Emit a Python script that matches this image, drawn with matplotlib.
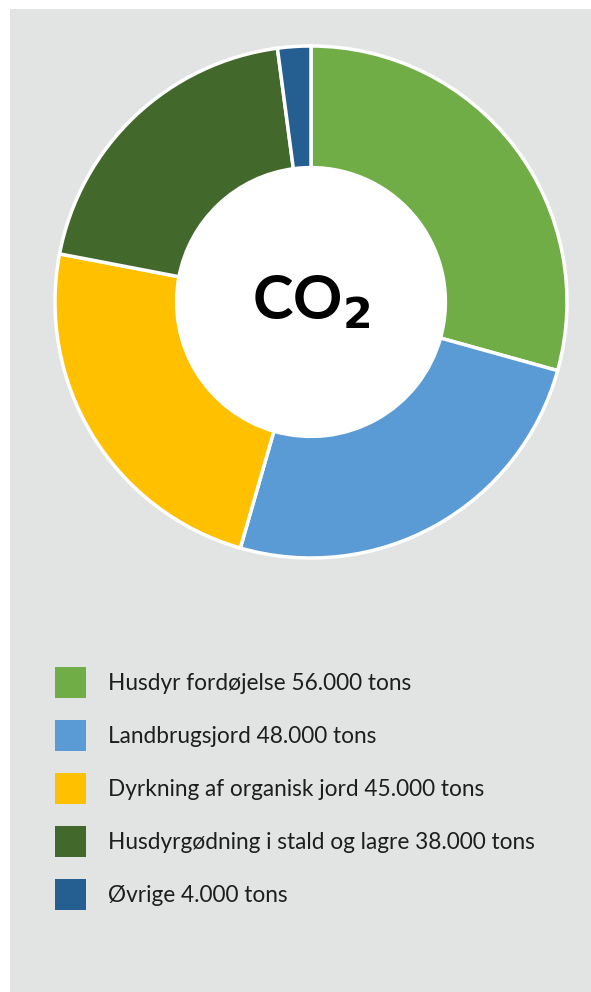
import matplotlib.pyplot as plt
from matplotlib.patches import Rectangle, Circle

labels = ['Husdyr fordøjelse', 'Landbrugsjord', 'Dyrkning af organisk jord',
          'Husdyrgødning i stald og lagre', 'Øvrige']
values = [56000, 48000, 45000, 38000, 4000]
colors = ['#70ad47', '#5b9bd5', '#ffc000', '#43682b', '#255e91']

W, H = 591, 992
fig = plt.figure(figsize=(W / 100, H / 100), dpi=100)
fig.patch.set_facecolor('white')

# grey panel
bg = fig.add_axes([0, 0, 1, 1])
bg.set_xlim(0, W)
bg.set_ylim(H, 0)
bg.axis('off')
bg.add_patch(Rectangle((10, 9), W - 10, H - 9, color='#e2e4e3', lw=0))

# donut
cx, cy, r = 311, 302, 256
ax = fig.add_axes([(cx - r) / W, (H - cy - r) / H, 2 * r / W, 2 * r / H])
ax.pie(values, colors=colors, startangle=90, counterclock=False, radius=1,
       wedgeprops=dict(width=0.475, edgecolor='white', linewidth=2.5))
ax.add_patch(Circle((0, 0), 0.527, color='white', zorder=0))
ax.set_xlim(-1, 1)
ax.set_ylim(-1, 1)
ax.set_aspect('auto')
ax.axis('off')
ax.text(0, 0, 'CO$_\\mathbf{2}$', ha='center', va='center', fontsize=44,
        fontweight='bold', family='Lato', color='black')

# legend
for i, (lab, v, c) in enumerate(zip(labels, values, colors)):
    y = 682.5 + 53.1 * i
    bg.add_patch(Rectangle((55, y - 15.5), 31, 31, color=c, lw=0))
    txt = f"{lab} {v:,} tons".replace(',', '.')
    bg.text(108, y + 1, txt, ha='left', va='center', fontsize=16.3,
            family='Lato', color='#1e1e1e')

fig.savefig('out.png', dpi=100)
